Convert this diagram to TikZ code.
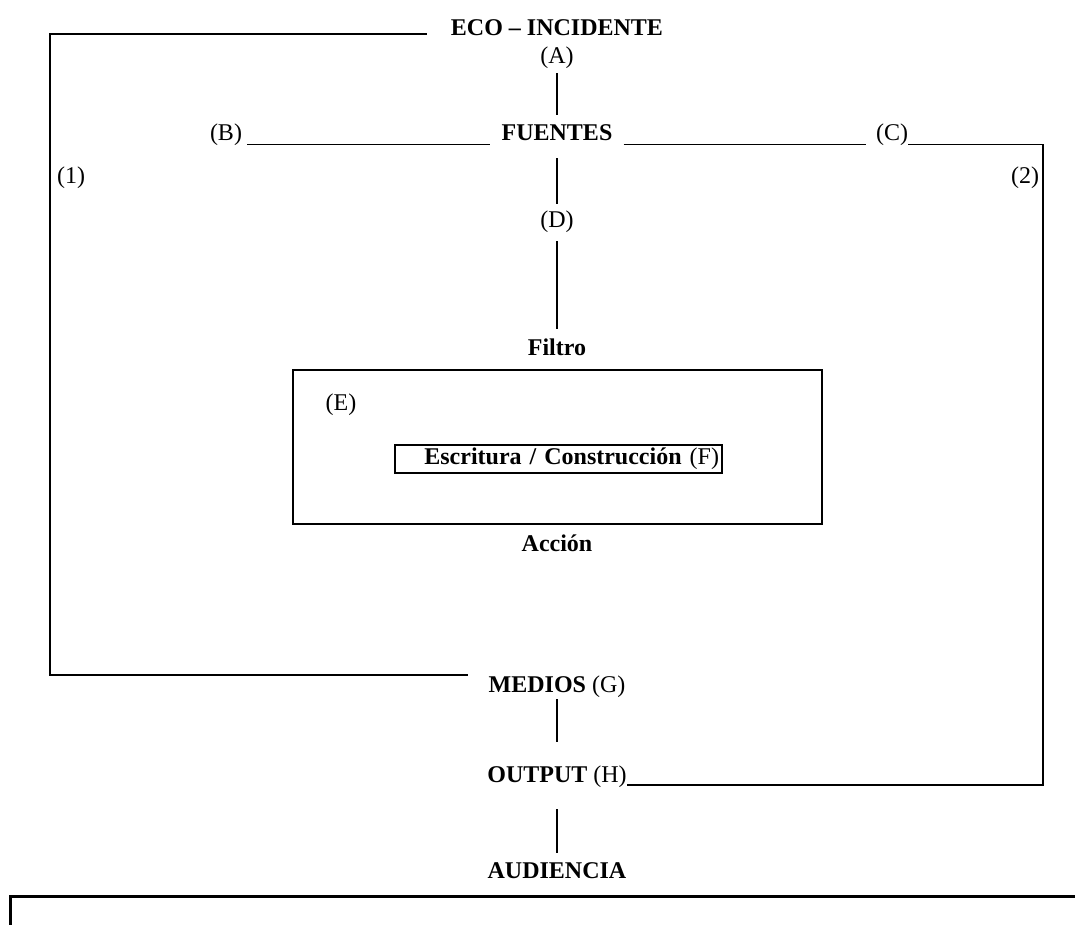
\documentclass[tikz,border=0pt]{standalone}
\usepackage{fontspec}
\setmainfont{Liberation Serif}
\usetikzlibrary{calc}

\newcommand{\diagsize}{\fontsize{24pt}{28pt}\selectfont}

\begin{document}
\begin{tikzpicture}[
    x=1pt, y=-1pt,
    font=\diagsize,
    title/.style ={font=\diagsize\bfseries, inner sep=0pt, anchor=base},
    tag/.style   ={font=\diagsize, inner sep=0pt, anchor=base},
    link/.style  ={line width=1.3pt},
    frame/.style ={draw, line width=1.4pt, inner sep=0pt},
    inbox/.style ={draw, line width=1.2pt, font=\diagsize,
                   inner xsep=3pt, inner ysep=0pt, text width=321pt,
                   align=right, minimum height=28pt},
    notebox/.style={draw, line width=2.6pt, inner sep=0pt}
  ]
  \clip[use as bounding box] (0,0) rectangle (1075,924);

  % ---- top: incident and sources ----------------------------------------
  \node[title] (eco)     at (557, 35) {ECO – INCIDENTE};
  \node[tag]   (a)       at (557, 63) {(A)};
  \node[title] (fuentes) at (557,140) {FUENTES};
  \node[tag]   (b)       at (226,140) {(B)};
  \node[tag]   (c)       at (892,140) {(C)};
  \node[tag]   (one)     at ( 71,183) {(1)};
  \node[tag]   (two)     at (1025,183) {(2)};
  \node[tag]   (d)       at (557,227) {(D)};
  \node[title] (filtro)  at (557,355) {Filtro};

  % ---- action box -------------------------------------------------------
  \node[frame, minimum width=529pt, minimum height=154pt] (accbox) at (557.5,447) {};
  \node[tag]   (e)      at (341,410) {(E)};
  \node[inbox] (escr)   at (558.5,459) {\textbf{Escritura / Construcción} (F)};
  \node[title] (accion) at (557,551) {Acción};

  % ---- bottom: media, output, audience ---------------------------------
  \node[title] (medios) at (557,692) {MEDIOS \textmd{(G)}};
  \node[title] (output) at (557,782) {OUTPUT \textmd{(H)}};
  \node[title] (aud)    at (557,878) {AUDIENCIA};
  \node[notebox, anchor=north west, minimum width=1100pt, minimum height=80pt]
       (notes) at (9,895) {};

  % ---- loop corners -----------------------------------------------------
  \coordinate (tl) at (50,34);
  \coordinate (bl) at (50,675);
  \coordinate (tr) at (1043,144.5);
  \coordinate (br) at (1043,785);

  % ---- vertical links ---------------------------------------------------
  \draw[link, shorten <=5pt,  shorten >=9pt]  (a.south)       -- (fuentes.north);
  \draw[link, shorten <=18pt, shorten >=6pt]  (fuentes.south) -- (d.north);
  \draw[link, shorten <=9pt,  shorten >=9pt]  (d.south)       -- (filtro.north);
  \draw[link, shorten <=2pt,  shorten >=23pt] (medios.south)  -- (output.north);
  \draw[link, shorten <=22pt, shorten >=9pt]  (output.south)  -- (aud.north);

  % ---- horizontal links through FUENTES ---------------------------------
  \draw[link, shorten <=5pt, shorten >=11pt]
      ([yshift=-4.5pt]b.base east) -- ([yshift=-4.5pt]fuentes.base west);
  \draw[link, shorten <=11pt, shorten >=10pt]
      ([yshift=-4.5pt]fuentes.base east) -- ([yshift=-4.5pt]c.base west);

  % ---- feedback loops (1) and (2) ---------------------------------------
  \draw[link, shorten <=24pt, shorten >=20.5pt]
      (eco.west |- tl) -- (tl) -- (bl) -- (medios.west |- bl);
  \draw[link]
      ([yshift=-4.5pt]c.base east) -- (tr) -- (br) -- (output.east |- br);

\end{tikzpicture}
\end{document}
